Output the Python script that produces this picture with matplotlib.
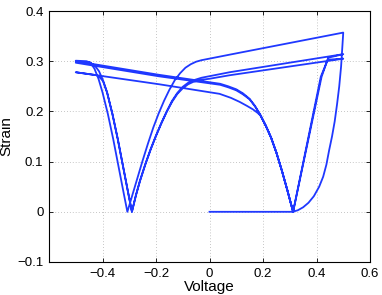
import matplotlib
matplotlib.use("Agg")
import matplotlib.pyplot as plt

# ---- data (voltage, strain), branch by branch ----
# virgin curve 0 -> 0.5
v_virgin = [0.0, 0.31, 0.33, 0.35, 0.37, 0.39, 0.41, 0.425, 0.437, 0.447, 0.458, 0.468,
            0.477, 0.485, 0.492, 0.5]
s_virgin = [0.0, 0.0, 0.003, 0.009, 0.018, 0.031, 0.050, 0.070, 0.094, 0.122, 0.150, 0.180,
            0.215, 0.250, 0.290, 0.357]

# branch A: 0.5 -> -0.5 (first down sweep)
v_a = [0.5, 0.075, 0.0, -0.03, -0.05, -0.07, -0.09, -0.11, -0.13, -0.15, -0.17, -0.19,
       -0.21, -0.23, -0.25, -0.27, -0.29, -0.307,
       -0.32, -0.34, -0.36, -0.38, -0.40, -0.415, -0.43, -0.445, -0.46, -0.5]
s_a = [0.357, 0.313, 0.305, 0.302, 0.299, 0.294, 0.287, 0.276, 0.262, 0.243, 0.221, 0.196,
       0.168, 0.136, 0.102, 0.066, 0.030, 0.0,
       0.035, 0.090, 0.145, 0.195, 0.238, 0.265, 0.285, 0.297, 0.300, 0.301]

# branch B: -0.5 -> 0.5 (first up sweep)
v_b = [-0.5, -0.19, 0.0, 0.04, 0.07, 0.10, 0.125, 0.15, 0.17, 0.19, 0.21, 0.23, 0.25,
       0.27, 0.29, 0.3125, 0.3875, 0.419, 0.444, 0.5]
s_b = [0.300, 0.273, 0.258, 0.255, 0.250, 0.244, 0.236, 0.225, 0.211, 0.193, 0.172, 0.148,
       0.118, 0.083, 0.045, 0.0, 0.189, 0.269, 0.307, 0.314]

# branch C: 0.5 -> -0.5 (second down sweep)
v_c = [0.5, 0.075, 0.0, -0.03, -0.06, -0.08, -0.10, -0.12, -0.14, -0.16, -0.18, -0.20,
       -0.22, -0.24, -0.26, -0.275, -0.29,
       -0.303, -0.323, -0.343, -0.363, -0.383, -0.398, -0.413, -0.43, -0.45, -0.5]
s_c = [0.314, 0.278, 0.270, 0.267, 0.262, 0.257, 0.249, 0.237, 0.221, 0.200, 0.177, 0.152,
       0.125, 0.095, 0.062, 0.033, 0.0,
       0.035, 0.090, 0.145, 0.195, 0.238, 0.262, 0.280, 0.292, 0.298, 0.297]

# branch D: -0.5 -> 0.5 (second up sweep)
v_d = [-0.5, -0.19, 0.0, 0.04, 0.07, 0.10, 0.125, 0.15, 0.17, 0.19, 0.21, 0.23, 0.25,
       0.27, 0.29, 0.3125, 0.385, 0.416, 0.442, 0.5]
s_d = [0.297, 0.270, 0.256, 0.253, 0.248, 0.242, 0.234, 0.224, 0.210, 0.193, 0.172, 0.148,
       0.118, 0.083, 0.045, 0.0, 0.189, 0.269, 0.303, 0.305]

# branch E: 0.5 -> -0.5 (third down sweep)
v_e = [0.5, 0.075, 0.0, -0.03, -0.06, -0.08, -0.10, -0.12, -0.14, -0.16, -0.18, -0.20,
       -0.22, -0.24, -0.26, -0.275, -0.29,
       -0.303, -0.323, -0.343, -0.363, -0.383, -0.398, -0.41, -0.42, -0.5]
s_e = [0.305, 0.272, 0.265, 0.263, 0.259, 0.254, 0.246, 0.235, 0.219, 0.199, 0.176, 0.151,
       0.124, 0.094, 0.061, 0.033, 0.0,
       0.035, 0.090, 0.145, 0.195, 0.238, 0.260, 0.268, 0.272, 0.278]

# branch F: -0.5 -> 0.31 (last up sweep)
v_f = [-0.5, -0.1875, 0.0375, 0.08, 0.1125, 0.14, 0.1625, 0.18, 0.19, 0.21, 0.23, 0.25,
       0.27, 0.29, 0.3125]
s_f = [0.278, 0.254, 0.235, 0.227, 0.219, 0.211, 0.204, 0.197, 0.192, 0.172, 0.148, 0.118,
       0.083, 0.045, 0.0]

voltage = v_virgin + v_a + v_b + v_c + v_d + v_e + v_f
strain = s_virgin + s_a + s_b + s_c + s_d + s_e + s_f

x_ticks = [-0.4, -0.2, 0, 0.2, 0.4, 0.6]
x_labels = ["\u22120.4", "\u22120.2", "0", "0.2", "0.4", "0.6"]
y_ticks = [-0.1, 0, 0.1, 0.2, 0.3, 0.4]
y_labels = ["\u22120.1", "0", "0.1", "0.2", "0.3", "0.4"]

plt.rcParams['font.family'] = ['Liberation Sans', 'DejaVu Sans']

fig = plt.figure(figsize=(3.82, 2.95), dpi=100)
ax = fig.add_axes([49 / 382, 33 / 295, 321 / 382, 251 / 295])
ax.plot(voltage, strain, color=(0.12, 0.22, 1.0), linewidth=1.3, solid_joinstyle='round')

ax.set_xlim(-0.6, 0.6)
ax.set_ylim(-0.1, 0.4)
ax.set_xticks(x_ticks)
ax.set_xticklabels(x_labels)
ax.set_yticks(y_ticks)
ax.set_yticklabels(y_labels)
ax.tick_params(direction='in', length=3, width=0.6, labelsize=9.5, top=True, right=True,
               pad=4)
ax.grid(True, linestyle=(0, (1, 2.5)), color='0.7', linewidth=0.6)
for sp in ax.spines.values():
    sp.set_linewidth(0.8)
ax.set_xlabel("Voltage", fontsize=11, labelpad=0)
ax.set_ylabel("Strain", fontsize=11, labelpad=3)

fig.savefig("out.png", dpi=100)
